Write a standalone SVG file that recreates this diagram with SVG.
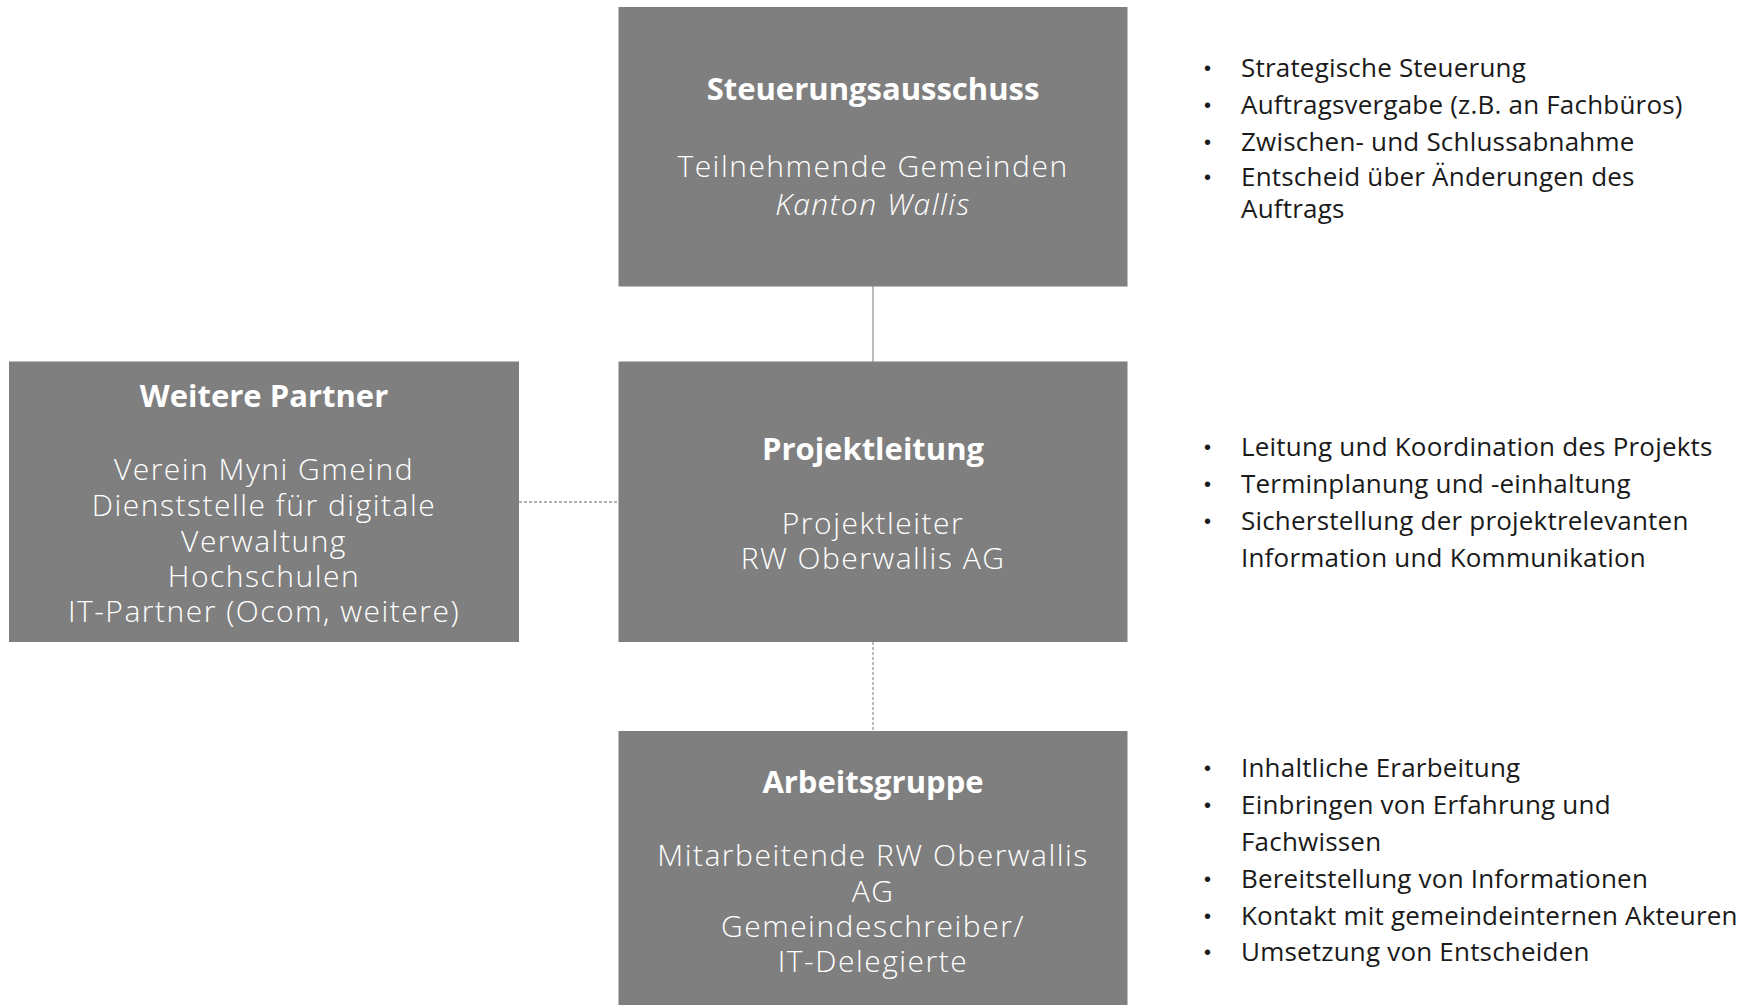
<svg xmlns="http://www.w3.org/2000/svg" width="1754" height="1005" viewBox="0 0 1754 1005">
<style>
.box{fill:#7f7f7f}
.t{font-family:"Open Sans",Lato,"Liberation Sans",sans-serif;fill:#ffffff;text-anchor:middle}
.h{font-size:31px;font-weight:700}
.n{font-size:30px;font-weight:300;letter-spacing:1.5px}
.b{font-family:"Open Sans",Lato,"Liberation Sans",sans-serif;font-size:26px;letter-spacing:0.2px;fill:#1a1a1a}
.d{font-family:"Liberation Sans",sans-serif;font-size:20px;fill:#1a1a1a}
.solid{stroke:#999999;stroke-width:1.3;fill:none}
.dash{stroke:#999999;stroke-width:1.3;fill:none;stroke-dasharray:3 2}
</style>
<rect width="1754" height="1005" fill="#ffffff"/>
<g id="connectors">
<line class="solid" x1="873" y1="286" x2="873" y2="362"/>
<line class="dash" x1="873" y1="642" x2="873" y2="731"/>
<line class="dash" x1="519" y1="502" x2="619" y2="502"/>
</g>
<g id="steuerungsausschuss">
<rect class="box" x="618.5" y="7" width="509" height="279.5"/>
<text class="t h" x="873" y="100">Steuerungsausschuss</text>
<text class="t n" x="873" y="177">Teilnehmende Gemeinden</text>
<text class="t n" x="873" y="215" font-style="italic">Kanton Wallis</text>
</g>
<g id="weitere-partner">
<rect class="box" x="9" y="361.5" width="510" height="280.5"/>
<text class="t h" x="264" y="407">Weitere Partner</text>
<text class="t n" x="264" y="480">Verein Myni Gmeind</text>
<text class="t n" x="264" y="516">Dienststelle für digitale</text>
<text class="t n" x="264" y="552">Verwaltung</text>
<text class="t n" x="264" y="587">Hochschulen</text>
<text class="t n" x="264" y="622">IT-Partner (Ocom, weitere)</text>
</g>
<g id="projektleitung">
<rect class="box" x="618.5" y="361.5" width="509" height="280.5"/>
<text class="t h" x="873" y="460">Projektleitung</text>
<text class="t n" x="873" y="534">Projektleiter</text>
<text class="t n" x="873" y="569">RW Oberwallis AG</text>
</g>
<g id="arbeitsgruppe">
<rect class="box" x="618.5" y="731" width="509" height="280"/>
<text class="t h" x="873" y="793">Arbeitsgruppe</text>
<text class="t n" x="873" y="866">Mitarbeitende RW Oberwallis</text>
<text class="t n" x="873" y="902">AG</text>
<text class="t n" x="873" y="937">Gemeindeschreiber/</text>
<text class="t n" x="873" y="972">IT-Delegierte</text>
</g>
<g id="aufgaben-steuerung">
<text class="d" x="1204" y="75">•</text><text class="b" x="1241" y="77">Strategische Steuerung</text>
<text class="d" x="1204" y="112">•</text><text class="b" x="1241" y="114">Auftragsvergabe (z.B. an Fachbüros)</text>
<text class="d" x="1204" y="149">•</text><text class="b" x="1241" y="151">Zwischen- und Schlussabnahme</text>
<text class="d" x="1204" y="184">•</text><text class="b" x="1241" y="186">Entscheid über Änderungen des</text>
<text class="b" x="1241" y="218">Auftrags</text>
</g>
<g id="aufgaben-projektleitung">
<text class="d" x="1204" y="454">•</text><text class="b" x="1241" y="456">Leitung und Koordination des Projekts</text>
<text class="d" x="1204" y="491">•</text><text class="b" x="1241" y="493">Terminplanung und -einhaltung</text>
<text class="d" x="1204" y="528">•</text><text class="b" x="1241" y="530">Sicherstellung der projektrelevanten</text>
<text class="b" x="1241" y="567">Information und Kommunikation</text>
</g>
<g id="aufgaben-arbeitsgruppe">
<text class="d" x="1204" y="775">•</text><text class="b" x="1241" y="777">Inhaltliche Erarbeitung</text>
<text class="d" x="1204" y="812">•</text><text class="b" x="1241" y="814">Einbringen von Erfahrung und</text>
<text class="b" x="1241" y="851">Fachwissen</text>
<text class="d" x="1204" y="886">•</text><text class="b" x="1241" y="888">Bereitstellung von Informationen</text>
<text class="d" x="1204" y="923">•</text><text class="b" x="1241" y="925">Kontakt mit gemeindeinternen Akteuren</text>
<text class="d" x="1204" y="959">•</text><text class="b" x="1241" y="961">Umsetzung von Entscheiden</text>
</g>
</svg>
